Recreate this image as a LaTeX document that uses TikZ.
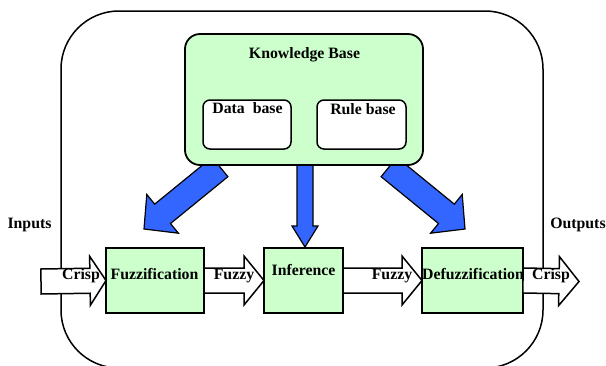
\documentclass[tikz,border=0pt]{standalone}
\usepackage{fontspec}
\setmainfont{Liberation Serif}
\usetikzlibrary{calc}

\definecolor{kbgreen}{HTML}{CCFFCC}
\definecolor{kbblue}{HTML}{3366FF}

% Block arrow as a polygon: #1 style, #2 start, #3 tip,
% #4 half shaft width, #5 half head width, #6 head length
\newcommand\fatarrow[6]{%
  \coordinate (fahb) at ($(#3)!#6!(#2)$);
  \draw[#1] ($(#2)!#4!90:(#3)$) -- ($(fahb)!#4!90:(#3)$)
    -- ($(fahb)!#5!90:(#3)$) -- (#3) -- ($(fahb)!#5!-90:(#3)$)
    -- ($(fahb)!#4!-90:(#3)$) -- ($(#2)!#4!-90:(#3)$) -- cycle;}

\begin{document}
\begin{tikzpicture}[x=1pt,y=-1pt,
  font=\fontsize{15.8}{19}\selectfont\bfseries,
  frame/.style={draw=black,line width=1.5pt,rounded corners=58pt},
  kbbox/.style={draw=black,line width=1.8pt,fill=kbgreen,rectangle,
    rounded corners=15pt,inner sep=0pt,outer sep=0pt},
  subbox/.style={draw=black,line width=1.5pt,fill=white,rectangle,
    rounded corners=7pt,inner sep=0pt,outer sep=0pt},
  block/.style={draw=black,line width=1.8pt,fill=kbgreen,rectangle,
    inner sep=0pt,outer sep=0pt},
  hollow/.style={draw=black,line width=1.5pt,fill=white},
  blue/.style={draw=black,line width=1.2pt,fill=kbblue},
  txt/.style={anchor=base,inner sep=0pt}]
\useasboundingbox (0,0) rectangle (606,365);
\clip (0,0) rectangle (606,365);

% outer frame of the controller
\draw[frame] (61,11) rectangle (543,368);

% processing blocks
\node[block,minimum width=98pt,minimum height=65pt]  (fuzz)   at (155,280.5) {};
\node[block,minimum width=79pt,minimum height=65pt]  (inf)    at (303.5,280.5) {};
\node[block,minimum width=101pt,minimum height=65pt] (defuzz) at (472.5,280.5) {};

% end points of the crisp signals
\coordinate (crispin)  at (41,281.5);
\coordinate (crispout) at (579,281.5);

% hollow signal arrows
\fatarrow{hollow}{crispin}{fuzz.west}{12.5pt}{24.5pt}{16pt}
\fatarrow{hollow}{fuzz.east}{inf.west}{12.5pt}{24.5pt}{20pt}
\fatarrow{hollow}{inf.east}{defuzz.west}{12.5pt}{24.5pt}{20pt}
\fatarrow{hollow}{defuzz.east}{crispout}{12.5pt}{24.5pt}{20pt}

% knowledge base feeding the three blocks
\coordinate (kbl) at (220,167);
\coordinate (kbm) at (305,160);
\coordinate (kbr) at (389,167);
\coordinate (fuzzin) at (144,229);
\coordinate (infin)  at ($(inf.north)+(1.5,-1)$);
\coordinate (defin)  at (465,229);
\fatarrow{blue}{kbl}{fuzzin}{12.5pt}{25pt}{24pt}
\fatarrow{blue}{kbm}{infin}{8pt}{13pt}{21pt}
\fatarrow{blue}{kbr}{defin}{12.5pt}{25pt}{24pt}

\node[kbbox,minimum width=238pt,minimum height=131pt] (kb) at (304,99.5) {};
\node[subbox,minimum width=88pt,minimum height=49pt] (db) at (247,124.5) {};
\node[subbox,minimum width=89pt,minimum height=49pt] (rb) at (361.5,124.5) {};

% labels
\node[txt] (kbtitle) at (304.5,58) {Knowledge Base};
\node[txt] (dbtext)  at (247.5,113) {Data\ \ base};
\node[txt] (rbtext)  at (363,114) {Rule base};
\node[txt] (fuzztxt) at (154.5,279) {Fuzzification};
\node[txt] (inftxt)  at (303.5,275) {Inference};
\node[txt] (deftxt)  at (473,279) {Defuzzification};
\node[txt] (crisp1)  at (81,279) {Crisp};
\node[txt] (fuzzy1)  at (234,279) {Fuzzy};
\node[txt] (fuzzy2)  at (392,279) {Fuzzy};
\node[txt] (crisp2)  at (551,279) {Crisp};
\node[txt] (inputs)  at (29.5,228) {Inputs};
\node[txt] (outputs) at (578,228) {Outputs};
\end{tikzpicture}
\end{document}
